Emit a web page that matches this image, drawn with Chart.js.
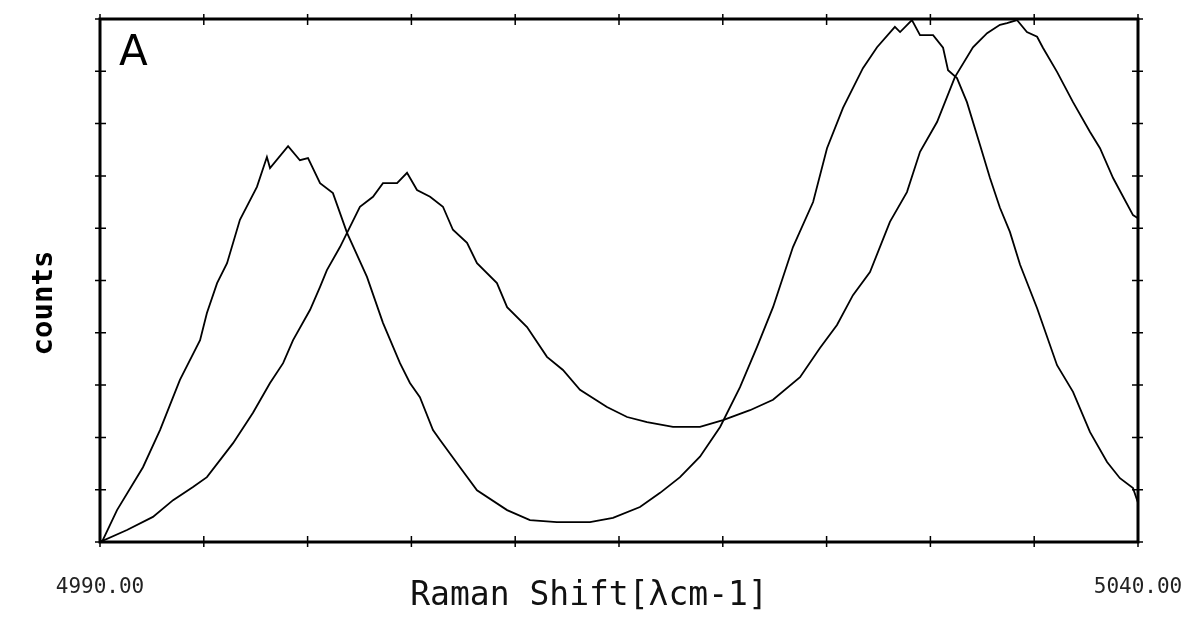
<!DOCTYPE html>
<html>
<head>
<meta charset="utf-8">
<script src="https://cdn.jsdelivr.net/npm/chart.js@4/dist/chart.umd.min.js"></script>
<style>
  html, body { margin: 0; padding: 0; background: #fff; }
  #wrap { width: 1188px; height: 624px; }
</style>
</head>
<body>
<div id="wrap"><canvas id="raman"></canvas></div>
<script>
// Raman shift (cm-1) and counts (normalised 0-100)
const shift1 = [4990.00, 4990.14, 4990.82, 4992.07, 4992.89, 4993.85, 4994.82, 4995.15, 4995.64, 4996.12,
  4996.74, 4997.56, 4998.04, 4998.19, 4999.06, 4999.63, 5000.02, 5000.60, 5001.22, 5001.90,
  5002.86, 5003.63, 5004.45, 5004.93, 5005.41, 5006.04, 5006.38, 5007.34, 5008.16, 5009.61,
  5010.71, 5012.01, 5013.60, 5014.71, 5016.01, 5016.98, 5017.94, 5018.90, 5019.87, 5020.83,
  5021.65, 5022.42, 5023.38, 5024.35, 5025.02, 5025.79, 5026.75, 5027.43, 5028.29, 5028.54,
  5029.11, 5029.50, 5030.13, 5030.61, 5030.85, 5031.28, 5031.76, 5032.39, 5032.87, 5033.35,
  5033.83, 5034.32, 5035.14, 5036.10, 5036.87, 5037.69, 5038.51, 5039.13, 5039.76, 5040.00];
const counts1 = [0, 0.4, 6.1, 14.3, 21.4, 31.0, 38.6, 43.8, 49.5, 53.3,
  61.6, 67.9, 73.6, 71.5, 75.7, 73.0, 73.4, 68.6, 66.7, 59.1,
  50.7, 41.9, 34.2, 30.4, 27.7, 21.4, 19.5, 14.3, 9.9, 6.1,
  4.2, 3.8, 3.8, 4.6, 6.7, 9.4, 12.4, 16.3, 22.0, 29.6,
  37.3, 44.9, 56.4, 65.0, 75.3, 83.0, 90.6, 94.6, 98.5, 97.5,
  99.8, 96.9, 96.9, 94.5, 90.2, 88.7, 84.1, 75.9, 69.6, 63.9,
  59.3, 53.0, 44.7, 33.8, 28.7, 21.0, 15.3, 12.2, 10.3, 7.5];

const shift2 = [4990.00, 4991.30, 4992.55, 4993.52, 4994.48, 4995.15, 4996.41, 4997.37, 4998.19, 4998.82,
  4999.30, 5000.12, 5000.60, 5000.93, 5001.56, 5002.52, 5003.15, 5003.63, 5004.31, 5004.79,
  5005.27, 5005.90, 5006.52, 5007.00, 5007.68, 5008.16, 5009.12, 5009.61, 5010.57, 5011.53,
  5012.30, 5013.12, 5014.42, 5015.39, 5016.35, 5017.60, 5018.90, 5020.01, 5021.31, 5022.42,
  5023.72, 5024.68, 5025.50, 5026.27, 5027.09, 5028.05, 5028.87, 5029.50, 5030.32, 5031.18,
  5032.05, 5032.73, 5033.35, 5033.69, 5034.17, 5034.65, 5035.14, 5035.42, 5036.10, 5036.87,
  5037.69, 5038.17, 5038.80, 5039.76, 5040.00];
const counts2 = [0, 2.3, 4.8, 8.0, 10.5, 12.4, 18.9, 24.7, 30.4, 34.2,
  38.6, 44.4, 48.8, 52.0, 56.4, 64.1, 66.0, 68.6, 68.6, 70.6,
  67.3, 66.0, 64.1, 59.7, 57.2, 53.3, 49.5, 44.9, 41.1, 35.4,
  32.9, 29.1, 25.8, 23.9, 22.9, 22.0, 22.0, 23.3, 25.2, 27.2,
  31.5, 37.1, 41.5, 47.2, 51.6, 61.2, 66.9, 74.6, 80.3, 88.9,
  94.6, 97.3, 98.9, 99.2, 99.8, 97.5, 96.6, 94.5, 89.9, 84.1,
  78.4, 75.3, 69.6, 62.5, 61.9];

const xTickLabels = { 4990: '4990.00', 5040: '5040.00' };
const xTitle = 'Raman Shift[λcm-1]';
const yTitle = 'counts';
const panelLabel = 'A';

const toPoints = (xs, ys) => xs.map((x, i) => ({ x: x, y: ys[i] }));

// box, tick marks on all four sides, and the axis texts
const framePlugin = {
  id: 'frame',
  afterDraw(chart) {
    const { ctx, chartArea: { left, right, top, bottom }, scales: { x, y } } = chart;
    ctx.save();
    ctx.strokeStyle = '#000';
    ctx.lineWidth = 3;
    ctx.strokeRect(left, top, right - left, bottom - top);

    ctx.lineWidth = 1.5;
    ctx.beginPath();
    for (let v = 4990; v <= 5040; v += 5) {
      const px = x.getPixelForValue(v);
      ctx.moveTo(px, bottom - 6); ctx.lineTo(px, bottom + 5);
      ctx.moveTo(px, top - 5); ctx.lineTo(px, top + 6);
    }
    for (let v = 0; v <= 100; v += 10) {
      const py = y.getPixelForValue(v);
      ctx.moveTo(left - 5, py); ctx.lineTo(left + 6, py);
      ctx.moveTo(right - 6, py); ctx.lineTo(right + 5, py);
    }
    ctx.stroke();

    ctx.fillStyle = '#000';
    ctx.font = '42px "DejaVu Sans"';
    ctx.textAlign = 'left';
    ctx.textBaseline = 'alphabetic';
    ctx.fillText(panelLabel, 119, 65);

    ctx.fillStyle = '#111';
    ctx.font = '33px "DejaVu Sans Mono"';
    ctx.textAlign = 'center';
    ctx.textBaseline = 'alphabetic';
    ctx.fillText(xTitle, 589, 605);

    ctx.translate(52, 303);
    ctx.rotate(-Math.PI / 2);
    ctx.font = 'bold 29px "DejaVu Sans Mono"';
    ctx.fillStyle = '#000';
    ctx.fillText(yTitle, 0, 0);
    ctx.restore();
  }
};

new Chart(document.getElementById('raman'), {
  type: 'line',
  data: {
    datasets: [
      { data: toPoints(shift1, counts1), borderColor: '#000', borderWidth: 1.8, pointRadius: 0, tension: 0, fill: false },
      { data: toPoints(shift2, counts2), borderColor: '#000', borderWidth: 1.8, pointRadius: 0, tension: 0, fill: false }
    ]
  },
  options: {
    responsive: true,
    maintainAspectRatio: false,
    animation: false,
    layout: { padding: { left: 100, right: 50, top: 19, bottom: 0 } },
    plugins: { legend: { display: false }, tooltip: { enabled: false } },
    scales: {
      x: {
        type: 'linear',
        min: 4990,
        max: 5040,
        grid: { display: false },
        border: { display: false },
        ticks: {
          stepSize: 5,
          autoSkip: false,
          maxRotation: 0,
          padding: 25,
          color: '#222',
          font: { family: 'DejaVu Sans Mono', size: 21 },
          callback: (v) => xTickLabels[v] || ''
        },
        afterFit: (scale) => {
          scale.height = 82;
          scale.paddingLeft = 0;
          scale.paddingRight = 0;
        }
      },
      y: {
        display: false,
        min: 0,
        max: 100
      }
    }
  },
  plugins: [framePlugin]
});
</script>
</body>
</html>
